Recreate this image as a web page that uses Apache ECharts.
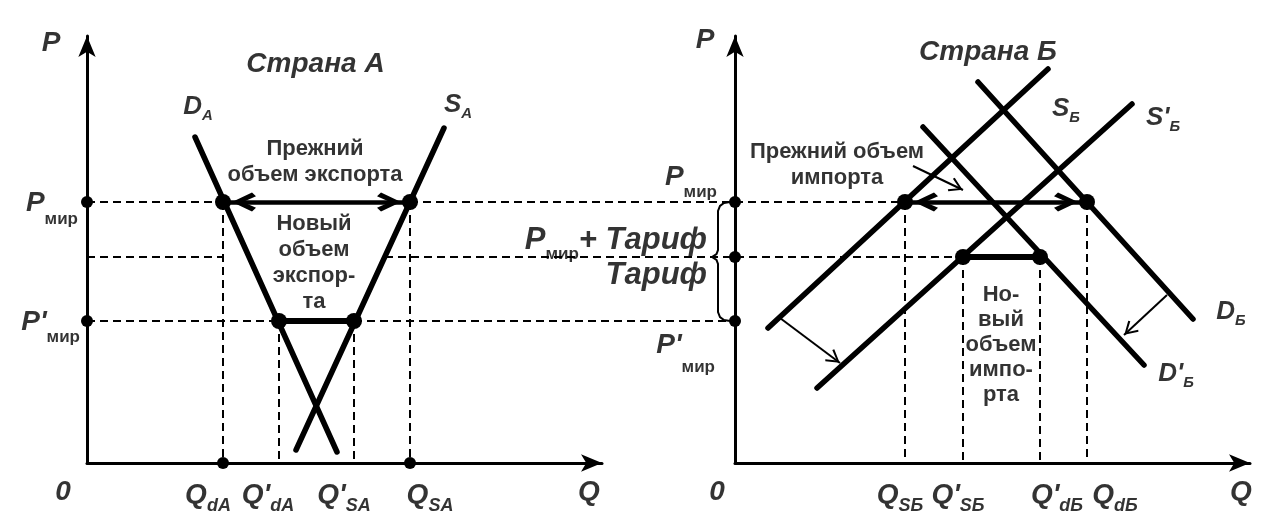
<!DOCTYPE html>
<html><head><meta charset="utf-8">
<script src="https://cdn.jsdelivr.net/npm/echarts@6/dist/echarts.min.js"></script>
<style>html,body{margin:0;padding:0;background:#fff}#c{width:1288px;height:528px}</style>
</head><body><div id="c"></div>
<script>
// ================= DATA =================
// price levels shared by both panels: P_мир, P_мир + Тариф, P'_мир
const priceValues = [26.1, 20.6, 14.2];
// Страна А
const demandA = [[10.8, 32.6], [25.0, 1.1]];
const supplyA = [[35.7, 33.5], [20.9, 1.3]];
const qLabelsA = ['Q_dA', "Q'_dA", "Q'_SA", 'Q_SA'];
const qValuesA = [13.6, 19.2, 26.7, 32.3];
const tariffLineResumeA = 29.8;           // where the dashed P_мир+Тариф line re-appears (on S_A)
// Страна Б
const supplyB = [[3.3, 13.5], [31.3, 39.4]];
const supplyB2 = [[8.2, 7.5], [39.7, 35.9]];
const demandB = [[24.3, 38.1], [45.8, 14.4]];
const demandB2 = [[18.8, 33.6], [40.9, 9.8]];
const qLabelsB = ['Q_SБ', "Q'_SБ", "Q'_dБ", 'Q_dБ'];
const qValuesB = [17.0, 22.8, 30.5, 35.2];
const shiftS = [[4.5, 14.5], [10.5, 10.0]];
const shiftD = [[43.2, 16.8], [38.9, 12.8]];
const pointerOld = [[17.8, 29.7], [22.8, 27.3]];
// texts
const titles = ['Страна А', 'Страна Б'];
const curveNamesA = ['D_A', 'S_A'];
const curveNamesB = ['S_Б', "S'_Б", 'D_Б', "D'_Б"];
const oldExportText = ['Прежний', 'объем экспорта'];
const newExportText = ['Новый', 'объем', 'экспор-', 'та'];
const oldImportText = ['Прежний объем', 'импорта'];
const newImportText = ['Но-', 'вый', 'объем', 'импо-', 'рта'];

// ================= CHART =================
const chart = echarts.init(document.getElementById('c'), null, {renderer: 'canvas'});
const F = '"Liberation Sans", Arial, Helvetica, sans-serif';
const K = '#000';
const X_MAX = 51.5, Y_MAX = 42.7;
const [Pw, Pt, Pp] = priceValues;
const [QdA, QdA2, QsA2, QsA] = qValuesA;
const [QsB, QsB2, QdB2, QdB] = qValuesB;

const axisLine = {show: true, onZero: false, symbol: ['none', 'arrow'], symbolSize: [13, 21],
  lineStyle: {color: K, width: 3}};
const mkAxis = (g, max) => ({gridIndex: g, type: 'value', min: 0, max: max, axisLine: axisLine,
  axisTick: {show: false}, axisLabel: {show: false}, splitLine: {show: false}});

const base = {
  animation: false,
  backgroundColor: '#fff',
  textStyle: {fontFamily: F},
  grid: [
    {left: 87, top: 36, width: 515, height: 427, containLabel: false, outerBoundsMode: 'none'},
    {left: 735, top: 36, width: 515, height: 427, containLabel: false, outerBoundsMode: 'none'}
  ],
  xAxis: [mkAxis(0, X_MAX), mkAxis(1, X_MAX)],
  yAxis: [mkAxis(0, Y_MAX), mkAxis(1, Y_MAX)]
};
chart.setOption(base);

// left-grid point expressed in right-grid units (for lines crossing both panels)
const toRight = (q, p) => chart.convertFromPixel({gridIndex: 1}, chart.convertToPixel({gridIndex: 0}, [q, p]));

const CHEV = 'path://M10,0L10.01,0L10,0.01ZM10,42L20,62L16,66L10,53L4,66L0,62Z';
const THIN = 'path://M7,0L7.01,0L7,0.01ZM7,14L14,26L12.4,27.2L7,17.5L1.6,27.2L0,26Z';

function lines(g, segs, width, opts) {
  opts = opts || {};
  return {
    type: 'lines', coordinateSystem: 'cartesian2d', xAxisIndex: g, yAxisIndex: g,
    polyline: !!opts.polyline, clip: false, silent: true, z: opts.z || 2,
    symbol: opts.symbol || 'none', symbolSize: opts.symbolSize || 0,
    lineStyle: {color: K, width: width, type: opts.type || 'solid', cap: opts.cap || 'butt', opacity: 1, curveness: 0},
    data: segs.map(c => ({coords: c}))
  };
}
function dots(g, pts, size) {
  return {type: 'scatter', xAxisIndex: g, yAxisIndex: g, clip: false, silent: true, z: 4,
    symbol: 'circle', symbolSize: size, itemStyle: {color: K, opacity: 1}, data: pts};
}
const R = {
  i: {fontFamily: F, fontSize: 28, fontStyle: 'italic', fontWeight: 'bold', color: K, lineHeight: 28, verticalAlign: 'top'},
  iL: {fontFamily: F, fontSize: 31, fontStyle: 'italic', fontWeight: 'bold', color: K, lineHeight: 28, verticalAlign: 'top'},
  it: {fontFamily: F, fontSize: 28, fontStyle: 'italic', fontWeight: 'bold', color: K, lineHeight: 28},
  itL: {fontFamily: F, fontSize: 31, fontStyle: 'italic', fontWeight: 'bold', color: K, lineHeight: 30},
  t: {fontFamily: F, fontSize: 28, fontStyle: 'italic', fontWeight: 'bold', color: K, lineHeight: 30},
  c: {fontFamily: F, fontSize: 26, fontStyle: 'italic', fontWeight: 'bold', color: K, lineHeight: 26, verticalAlign: 'top'},
  cs: {fontFamily: F, fontSize: 15, fontStyle: 'italic', fontWeight: 'bold', color: K, lineHeight: 15,
    padding: [14, 0, 0, 0], verticalAlign: 'top'},
  m: {fontFamily: F, fontSize: 17, fontWeight: 'bold', color: K, lineHeight: 18, padding: [21, 0, 0, 0], verticalAlign: 'top'},
  m2: {fontFamily: F, fontSize: 17, fontWeight: 'bold', color: K, lineHeight: 18, padding: [28, 0, 0, 0], verticalAlign: 'top'},
  qs: {fontFamily: F, fontSize: 18, fontStyle: 'italic', fontWeight: 'bold', color: K, lineHeight: 18,
    padding: [16, 0, 0, 0], verticalAlign: 'top'},
  b: {fontFamily: F, fontSize: 22, fontWeight: 'bold', color: K, lineHeight: 26},
  b2: {fontFamily: F, fontSize: 22, fontWeight: 'bold', color: K, lineHeight: 25}
};
function labelSeries(g, items) {
  return {
    type: 'scatter', xAxisIndex: g, yAxisIndex: g, clip: false, silent: true, z: 5,
    symbolSize: 1, itemStyle: {color: 'transparent'},
    label: {show: true, position: 'inside', formatter: p => p.name, color: K, fontFamily: F,
      textBorderWidth: 0, rich: R},
    data: items.map(it => ({name: it.t, value: it.at,
      label: Object.assign({offset: it.off, align: it.align || 'center', verticalAlign: 'middle'})}))
  };
}
const sub = (s, st) => { const [a, b] = s.split('_'); return '{' + (st[0]) + '|' + a + '}{' + st[1] + '|' + b + '}'; };
const block = (arr, st) => arr.map(l => '{' + st + '|' + l + '}').join('\n');
const mid = (a, b) => (a + b) / 2;

// ----- dashed guide lines -----
const dashA = lines(0, [
  [[0, Pw], [QdA, Pw]],
  [[0, Pt], [QdA, Pt]],
  [[0, Pp], [QdA2, Pp]],
  [[QdA, Pw], [QdA, 0]],
  [[QsA, Pw], [QsA, 0]],
  [[QdA2, Pp], [QdA2, 0]],
  [[QsA2, Pp], [QsA2, 0]]
], 2, {type: [8, 5], z: 1});
const dashB = lines(1, [
  [toRight(QsA, Pw), [QsB, Pw]],
  [toRight(tariffLineResumeA, Pt), [QsB2, Pt]],
  [toRight(QsA2, Pp), [0, Pp]],
  [[QsB, Pw], [QsB, 0]],
  [[QsB2, Pt], [QsB2, 0]],
  [[QdB2, Pt], [QdB2, 0]],
  [[QdB, Pw], [QdB, 0]]
], 2, {type: [8, 5], z: 1});

// ----- brace next to the right P axis -----
const brace = [[-0.5, Pw], [-1.1, Pw - 0.1], [-1.5, Pw - 0.4], [-1.7, Pw - 0.9], [-1.7, Pt + 0.7],
  [-1.85, Pt + 0.3], [-2.3, Pt], [-1.85, Pt - 0.3], [-1.7, Pt - 0.7], [-1.7, Pp + 0.9],
  [-1.5, Pp + 0.4], [-1.1, Pp + 0.1], [-0.5, Pp]];

const series = [
  dashA, dashB,
  lines(1, [brace], 2, {polyline: true, z: 2}),
  // curves
  lines(0, [demandA, supplyA], 5.5, {cap: 'round', z: 2}),
  lines(1, [supplyB, supplyB2, demandB, demandB2], 5.5, {cap: 'round', z: 2}),
  // new volumes (thick segments)
  lines(0, [[[QdA2, Pp], [QsA2, Pp]]], 6, {z: 3}),
  lines(1, [[[QsB2, Pt], [QdB2, Pt]]], 6, {z: 3}),
  // old volumes (double arrows)
  lines(0, [[[QdA, Pw], [QsA, Pw]]], 4.5, {z: 3, symbol: [CHEV, CHEV], symbolSize: [[19, 66], [19, 66]]}),
  lines(1, [[[QsB, Pw], [QdB, Pw]]], 4.5, {z: 3, symbol: [CHEV, CHEV], symbolSize: [[19, 66], [19, 66]]}),
  // shift arrows and pointer
  lines(1, [shiftS, shiftD, pointerOld], 2, {z: 3, symbol: ['none', THIN], symbolSize: [[15, 28], [15, 28]]}),
  // dots
  dots(0, [[QdA, Pw], [QsA, Pw], [QdA2, Pp], [QsA2, Pp]], 16),
  dots(0, [[0, Pw], [0, Pp], [QdA, 0], [QsA, 0]], 12),
  dots(1, [[QsB, Pw], [QdB, Pw], [QsB2, Pt], [QdB2, Pt]], 16),
  dots(1, [[0, Pw], [0, Pt], [0, Pp]], 12),
  // labels, left panel
  labelSeries(0, [
    {t: '{i|P}', at: [0, Y_MAX], off: [-36, 7]},
    {t: '{it|0}', at: [0, 0], off: [-24, 29]},
    {t: '{it|Q}', at: [X_MAX, 0], off: [-13, 29]},
    {t: '{t|' + titles[0] + '}', at: [mid(QdA, QsA), Y_MAX], off: [-1, 28]},
    {t: sub(curveNamesA[0], ['c', 'cs']), at: demandA[0], off: [3, -30]},
    {t: sub(curveNamesA[1], ['c', 'cs']), at: supplyA[0], off: [14, -23]},
    {t: block(oldExportText, 'b'), at: [mid(QdA, QsA), Pw], off: [-1.5, -40]},
    {t: block(newExportText, 'b'), at: [mid(QdA, QsA), Pw], off: [-2.5, 61]},
    {t: '{i|P}{m|мир}', at: [0, Pw], off: [-9, 1.5], align: 'right'},
    {t: "{i|P'}{m|мир}", at: [0, Pp], off: [-7, 1], align: 'right'},
    {t: sub(qLabelsA[0], ['i', 'qs']), at: [QdA, 0], off: [-15, 32]},
    {t: sub(qLabelsA[1], ['i', 'qs']), at: [QdA2, 0], off: [-11, 32]},
    {t: sub(qLabelsA[2], ['i', 'qs']), at: [QsA2, 0], off: [-10, 32]},
    {t: sub(qLabelsA[3], ['i', 'qs']), at: [QsA, 0], off: [20, 32]}
  ]),
  // labels, right panel
  labelSeries(1, [
    {t: '{i|P}', at: [0, Y_MAX], off: [-30, 4]},
    {t: '{it|0}', at: [0, 0], off: [-18, 29]},
    {t: '{it|Q}', at: [X_MAX, 0], off: [-9, 29]},
    {t: '{t|' + titles[1] + '}', at: [mid(QsB, QdB), Y_MAX], off: [-8, 16]},
    {t: sub(curveNamesB[0], ['c', 'cs']), at: supplyB[1], off: [18, 40]},
    {t: sub(curveNamesB[1], ['c', 'cs']), at: supplyB2[1], off: [31, 14]},
    {t: sub(curveNamesB[2], ['c', 'cs']), at: demandB[1], off: [38, -7]},
    {t: sub(curveNamesB[3], ['c', 'cs']), at: demandB2[1], off: [32, 9]},
    {t: block(oldImportText, 'b'), at: pointerOld[0], off: [-76, -1.5]},
    {t: block(newImportText, 'b2'), at: [mid(QsB2, QdB2), Pt], off: [-0.5, 88]},
    {t: '{i|P}{m|мир}', at: [0, Pw], off: [-18, -25], align: 'right'},
    {t: '{iL|P}{m|мир}{iL|+ Тариф}', at: [0, Pt], off: [-28, -18], align: 'right'},
    {t: '{itL|Тариф}', at: [0, Pt], off: [-28, 18], align: 'right'},
    {t: "{i|P'}{m2|мир}", at: [0, Pp], off: [-20, 24], align: 'right'},
    {t: sub(qLabelsB[0], ['i', 'qs']), at: [QsB, 0], off: [-5, 32]},
    {t: sub(qLabelsB[1], ['i', 'qs']), at: [QsB2, 0], off: [-5, 32]},
    {t: sub(qLabelsB[2], ['i', 'qs']), at: [QdB2, 0], off: [17, 32]},
    {t: sub(qLabelsB[3], ['i', 'qs']), at: [QdB, 0], off: [28, 32]}
  ])
];
chart.setOption({series: series});
</script></body></html>
